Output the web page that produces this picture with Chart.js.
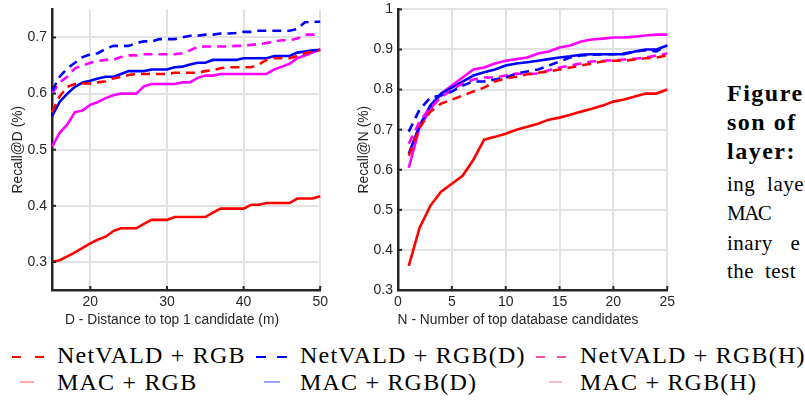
<!DOCTYPE html>
<html>
<head>
<meta charset="utf-8">
<script src="https://cdn.jsdelivr.net/npm/chart.js@4.4.0/dist/chart.umd.min.js"></script>
<style>
  body { margin: 0; width: 805px; height: 401px; overflow: hidden; background: #fff; position: relative; }
  canvas { position: absolute; top: -4px; }
  #chartD { left: 0; }
  #chartN { left: 346px; }
  .xtitle { position: absolute; font: 13.8px "Liberation Sans", Arial, sans-serif; color: #262626; white-space: nowrap; transform: translateX(-50%); }
  .leg { position: absolute; font: 24px "Liberation Serif", serif; color: #000; white-space: nowrap; line-height: 27px; letter-spacing: 1.2px; }
  .sw { position: absolute; }
  .cap { position: absolute; left: 727px; font: 21px "Liberation Serif", serif; color: #000; white-space: nowrap; line-height: 24px; letter-spacing: 0.5px; }
  .cap.b { font-weight: bold; font-size: 24px; letter-spacing: 1.5px; }
</style>
</head>
<body>
<canvas id="chartD" width="332" height="339"></canvas>
<canvas id="chartN" width="333" height="339"></canvas>

<div class="xtitle" style="left:172px; top:312px;">D - Distance to top 1 candidate (m)</div>
<div class="xtitle" style="left:518px; top:312px;">N - Number of top database candidates</div>

<svg class="sw" style="left:12px; top:355px;" width="36" height="4"><line x1="0" y1="2" x2="36" y2="2" stroke="#ff0000" stroke-width="2" stroke-dasharray="9,14"/></svg>
<div class="leg" style="left:57px; top:342px;">NetVALD + RGB</div>
<svg class="sw" style="left:256px; top:355px;" width="36" height="4"><line x1="0" y1="2" x2="36" y2="2" stroke="#0000ff" stroke-width="2" stroke-dasharray="10,11"/></svg>
<div class="leg" style="left:300px; top:342px;">NetVALD + RGB(D)</div>
<svg class="sw" style="left:536px; top:355px;" width="36" height="4"><line x1="0" y1="2" x2="36" y2="2" stroke="#ef4fa6" stroke-width="2" stroke-dasharray="9,12"/></svg>
<div class="leg" style="left:580px; top:342px;">NetVALD + RGB(H)</div>

<svg class="sw" style="left:20px; top:380px;" width="14" height="4"><line x1="0" y1="2" x2="14" y2="2" stroke="#ff8a8a" stroke-width="1.5"/></svg>
<div class="leg" style="left:57px; top:369px;">MAC + RGB</div>
<svg class="sw" style="left:264px; top:380px;" width="16" height="4"><line x1="0" y1="2" x2="16" y2="2" stroke="#8080ff" stroke-width="1.5"/></svg>
<div class="leg" style="left:300px; top:369px;">MAC + RGB(D)</div>
<svg class="sw" style="left:549px; top:380px;" width="13" height="4"><line x1="0" y1="2" x2="13" y2="2" stroke="#f6a0c8" stroke-width="1.5"/></svg>
<div class="leg" style="left:580px; top:369px;">MAC + RGB(H)</div>

<div class="cap b" style="top:81px;">Figure</div>
<div class="cap b" style="top:110px;">son of</div>
<div class="cap b" style="top:139px;">layer:</div>
<div class="cap" style="top:172px; word-spacing:6px;">ing layer</div>
<div class="cap" style="top:201px; letter-spacing:-1.5px;">MAC</div>
<div class="cap" style="top:231px; word-spacing:12px;">inary e</div>
<div class="cap" style="top:259px; word-spacing:5px;">the test</div>

<script>
// left panel: recall vs distance threshold D (m)
const distD = [15,16,17,18,19,20,21,22,23,24,25,26,27,28,29,30,31,32,33,34,35,36,37,38,39,40,41,42,43,44,45,46,47,48,49,50];
const dNetRgb  = [0.567,0.595,0.612,0.617,0.618,0.618,0.620,0.622,0.627,0.630,0.633,0.635,0.635,0.635,0.635,0.635,0.637,0.637,0.637,0.637,0.640,0.642,0.645,0.647,0.647,0.647,0.647,0.652,0.660,0.663,0.663,0.663,0.667,0.672,0.675,0.678];
const dNetRgbD = [0.605,0.630,0.645,0.655,0.665,0.670,0.672,0.680,0.685,0.685,0.685,0.690,0.693,0.693,0.697,0.697,0.697,0.700,0.703,0.703,0.705,0.705,0.707,0.707,0.708,0.710,0.710,0.712,0.712,0.712,0.712,0.712,0.715,0.727,0.728,0.728];
const dNetRgbH = [0.600,0.620,0.630,0.645,0.650,0.655,0.658,0.660,0.660,0.665,0.668,0.668,0.670,0.670,0.670,0.670,0.670,0.672,0.677,0.683,0.684,0.684,0.684,0.684,0.685,0.685,0.687,0.688,0.690,0.693,0.695,0.695,0.698,0.705,0.705,0.705];
const dMacRgb  = [0.300,0.303,0.310,0.317,0.325,0.333,0.340,0.345,0.355,0.360,0.360,0.360,0.368,0.375,0.375,0.375,0.380,0.380,0.380,0.380,0.380,0.388,0.395,0.395,0.395,0.395,0.402,0.402,0.405,0.405,0.405,0.405,0.413,0.413,0.413,0.417];
const dMacRgbD = [0.560,0.585,0.600,0.612,0.620,0.623,0.627,0.630,0.630,0.635,0.640,0.640,0.640,0.643,0.643,0.643,0.647,0.648,0.652,0.655,0.655,0.660,0.660,0.660,0.660,0.663,0.663,0.663,0.663,0.667,0.667,0.667,0.673,0.675,0.677,0.678];
const dMacRgbH = [0.505,0.530,0.545,0.567,0.570,0.580,0.585,0.592,0.597,0.600,0.600,0.600,0.613,0.617,0.617,0.617,0.617,0.620,0.620,0.628,0.632,0.632,0.635,0.635,0.635,0.635,0.635,0.635,0.635,0.643,0.648,0.653,0.663,0.668,0.673,0.678];
const xTicksD = [20, 30, 40, 50];
const yTicksD = [0.3, 0.4, 0.5, 0.6, 0.7];

// right panel: recall vs number of top candidates N
const topN = [1,2,3,4,5,6,7,8,9,10,11,12,13,14,15,16,17,18,19,20,21,22,23,24,25];
const nNetRgb  = [0.635,0.705,0.745,0.765,0.775,0.785,0.795,0.805,0.820,0.828,0.832,0.838,0.842,0.845,0.850,0.855,0.860,0.865,0.870,0.872,0.872,0.875,0.878,0.880,0.885];
const nNetRgbD = [0.695,0.750,0.780,0.785,0.795,0.810,0.820,0.820,0.825,0.830,0.840,0.845,0.850,0.860,0.870,0.880,0.885,0.887,0.888,0.888,0.890,0.895,0.898,0.895,0.910];
const nNetRgbH = [0.665,0.720,0.755,0.780,0.800,0.815,0.825,0.830,0.830,0.835,0.840,0.838,0.840,0.848,0.855,0.860,0.865,0.870,0.872,0.873,0.875,0.877,0.880,0.885,0.890];
const nMacRgb  = [0.360,0.455,0.510,0.545,0.565,0.585,0.625,0.675,0.682,0.690,0.700,0.707,0.715,0.725,0.730,0.737,0.745,0.752,0.760,0.770,0.775,0.783,0.790,0.790,0.800];
const nMacRgbD = [0.640,0.710,0.760,0.790,0.805,0.820,0.835,0.843,0.850,0.860,0.865,0.868,0.872,0.876,0.880,0.883,0.887,0.888,0.888,0.888,0.888,0.895,0.900,0.900,0.910];
const nMacRgbH = [0.605,0.705,0.750,0.790,0.810,0.830,0.850,0.855,0.865,0.872,0.876,0.880,0.890,0.895,0.905,0.910,0.920,0.925,0.927,0.930,0.930,0.932,0.935,0.937,0.937];
const xTicksN = [0, 5, 10, 15, 20, 25];
const yTicksN = [0.3, 0.4, 0.5, 0.6, 0.7, 0.8, 0.9, 1];

const RED = '#ff0000', BLUE = '#0000ff', MAG = '#ff00ff';
const INK = '#262626';
const TICK_FONT = { family: '"Liberation Sans", Arial, sans-serif', size: 14 };

function pts(xs, ys) {
  return xs.map((x, i) => ({ x: x, y: ys[i] }));
}

function series(xs, ys, color, dashed) {
  return {
    data: pts(xs, ys),
    borderColor: color,
    borderWidth: 2.6,
    borderDash: dashed ? [9, 6] : [],
    pointRadius: 0,
    fill: false,
    tension: 0,
    clip: 4
  };
}

// small inward tick marks like the MATLAB axes
const innerTicks = {
  id: 'innerTicks',
  afterDraw(chart) {
    const ctx = chart.ctx;
    const a = chart.chartArea;
    ctx.save();
    ctx.strokeStyle = INK;
    ctx.lineWidth = 2;
    chart.scales.y.ticks.forEach(t => {
      const py = chart.scales.y.getPixelForValue(t.value);
      ctx.beginPath(); ctx.moveTo(a.left, py); ctx.lineTo(a.left + 4, py); ctx.stroke();
    });
    chart.scales.x.ticks.forEach(t => {
      const px = chart.scales.x.getPixelForValue(t.value);
      ctx.beginPath(); ctx.moveTo(px, a.bottom); ctx.lineTo(px, a.bottom - 4); ctx.stroke();
    });
    ctx.restore();
  }
};

function makeChart(id, opts) {
  return new Chart(document.getElementById(id), {
    type: 'line',
    data: { datasets: opts.datasets },
    plugins: [innerTicks],
    options: {
      responsive: false,
      animation: false,
      layout: { padding: { top: 4, right: 10, bottom: 0, left: 0 } },
      plugins: { legend: { display: false }, tooltip: { enabled: false } },
      scales: {
        x: {
          type: 'linear',
          min: opts.xMin, max: opts.xMax,
          afterBuildTicks: s => { s.ticks = opts.xTicks.map(v => ({ value: v })); },
          afterFit: s => { s.height = 45; },
          grid: { color: '#e2e2e2', lineWidth: 2, drawTicks: false },
          border: { color: INK, width: 2.5 },
          ticks: { color: INK, font: TICK_FONT, padding: 4, maxRotation: 0 }
        },
        y: {
          min: opts.yMin, max: opts.yMax,
          afterBuildTicks: s => { s.ticks = opts.yTicks.map(v => ({ value: v })); },
          afterFit: s => { s.width = 52; },
          grid: { color: '#e2e2e2', lineWidth: 2, drawTicks: false },
          border: { color: INK, width: 2.5 },
          ticks: { color: INK, font: TICK_FONT, padding: 5, callback: v => String(v) },
          title: {
            display: true, text: opts.yTitle, color: INK,
            font: { family: '"Liberation Sans", Arial, sans-serif', size: 13.8 },
            padding: { top: 10, bottom: 0 }
          }
        }
      }
    }
  });
}

makeChart('chartD', {
  xMin: 15, xMax: 50, yMin: 0.25, yMax: 0.75,
  xTicks: xTicksD, yTicks: yTicksD, yTitle: 'Recall@D (%)',
  datasets: [
    series(distD, dNetRgb, RED, true),
    series(distD, dNetRgbD, BLUE, true),
    series(distD, dNetRgbH, MAG, true),
    series(distD, dMacRgb, RED, false),
    series(distD, dMacRgbD, BLUE, false),
    series(distD, dMacRgbH, MAG, false)
  ]
});

makeChart('chartN', {
  xMin: 0, xMax: 25, yMin: 0.3, yMax: 1,
  xTicks: xTicksN, yTicks: yTicksN, yTitle: 'Recall@N (%)',
  datasets: [
    series(topN, nNetRgb, RED, true),
    series(topN, nNetRgbD, BLUE, true),
    series(topN, nNetRgbH, MAG, true),
    series(topN, nMacRgb, RED, false),
    series(topN, nMacRgbD, BLUE, false),
    series(topN, nMacRgbH, MAG, false)
  ]
});
</script>
</body>
</html>
